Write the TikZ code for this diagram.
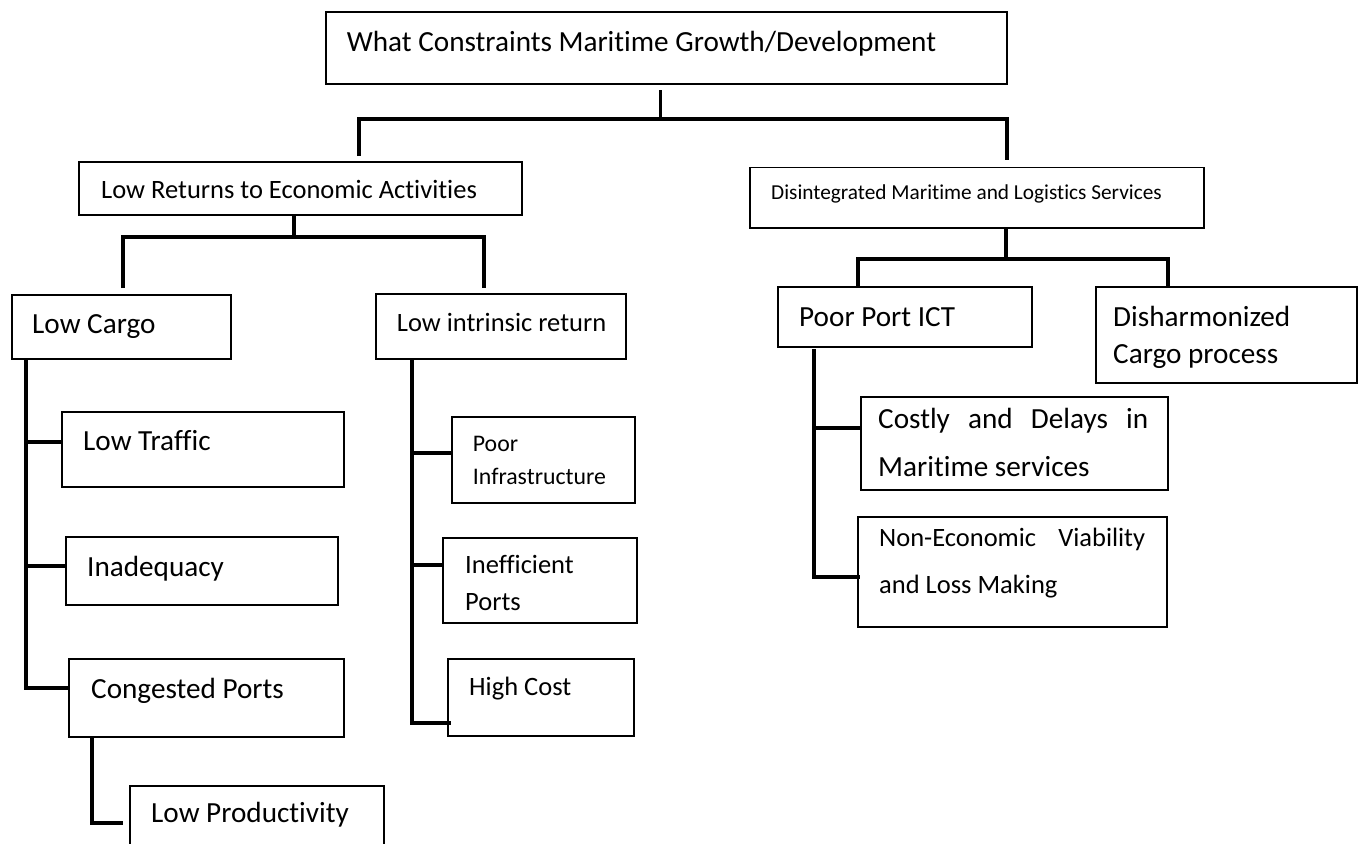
\documentclass[tikz,border=0pt]{standalone}
\usepackage{fontspec}
\setmainfont{Carlito}[Ligatures=NoCommon]
\newcommand\fsL{\fontsize{29.2}{36}\selectfont}
\newcommand\fsM{\fontsize{26.5}{33}\selectfont}
\newcommand\fsS{\fontsize{23.8}{32.3}\selectfont}
\newcommand\fsX{\fontsize{21.3}{26}\selectfont}
\newcommand\bnode[5]{\node[box,minimum width={(#4-#2)*1pt},minimum height={(#5-#3)*1pt}] (#1) at ({(#2+#4)/2},{(#3+#5)/2}) {};}
\tikzset{
  box/.style={draw=black,line width=1.3pt,inner sep=0pt,fill=none},
  conn/.style={draw=black,line width=3.1pt},
  txt/.style={inner sep=0pt,anchor=base west,text=black}
}
\begin{document}
\begin{tikzpicture}[x=1pt,y=-1pt]
\useasboundingbox (0,0) rectangle (1362,843);
\clip (0,0) rectangle (1362,843);
\fill[white] (0,0) rectangle (1362,843);
% boxes
\bnode{top}{326}{12}{1007}{84}
\bnode{lr}{79}{162}{522}{215}
\bnode{di}{750}{167.5}{1204}{228}
\bnode{lc}{12}{295}{231}{359}
\bnode{li}{376}{294}{626}{359}
\bnode{pp}{778}{287}{1032}{347}
\bnode{dh}{1096}{287}{1357}{383}
\bnode{lt}{62}{412}{344}{487}
\bnode{in}{66}{537}{338}{605}
\bnode{cp}{69}{659}{344}{737}
\bnode{lp}{130}{786}{384}{870}
\bnode{pi}{452}{417}{635}{503}
\bnode{ip}{443}{538}{637}{623}
\bnode{hc}{448}{659}{634}{736}
\bnode{cd}{861}{397}{1168}{490}
\bnode{ne}{858}{517}{1167}{627}
% texts
\node[txt,font=\fsL] (topT) at (346.7,51.7) {What Constraints Maritime Growth/Development};
\node[txt,font=\fsM] (lrT) at (101,198.3) {Low Returns to Economic Activities};
\node[txt,font=\fsX] (diT) at (771,199.3) {Disintegrated Maritime and Logistics Services};
\node[txt,font=\fsL] (ppT) at (799,326.7) {Poor Port ICT};
\node[txt] (dhT) at (1113,326.7) {\parbox[t]{230pt}{\fontsize{29.2}{36.6}\selectfont Disharmonized\\Cargo process}};
\node[txt,font=\fsL] (lcT) at (32,333) {Low Cargo};
\node[txt,font=\fsM] (liT) at (396.7,331.7) {Low intrinsic return};
\node[txt,font=\fsL] (ltT) at (83,450) {Low Traffic};
\node[txt,font=\fsL] (inT) at (87,576) {Inadequacy};
\node[txt] (piT) at (472.7,451.7) {\parbox[t]{160pt}{\fontsize{23.8}{32.3}\selectfont Poor\\Infrastructure}};
\node[txt] (ipT) at (465,573.3) {\parbox[t]{160pt}{\fontsize{26.5}{37.4}\selectfont Inefficient\\Ports}};
\node[txt,font=\fsM] (hcT) at (469,695) {High Cost};
\node[txt,font=\fsL] (cpT) at (91,698.3) {Congested Ports};
\node[txt,font=\fsL] (lpT) at (151,822.7) {Low Productivity};
\node[txt] (cdT) at (878,428.3) {\parbox[t]{270pt}{\fontsize{29.2}{48.4}\selectfont Costly and Delays in\linebreak Maritime services}};
\node[txt] (neT) at (879,546.7) {\parbox[t]{266pt}{\fontsize{26.5}{46.6}\selectfont Non-Economic Viability\linebreak and Loss Making}};
% junction coordinates
\coordinate (j0) at (660.7,119);
\coordinate (j1) at (294,237);
\coordinate (j2) at (1006,259);
\coordinate (j3) at (26,688);
\coordinate (j4) at (412,723);
\coordinate (j5) at (814,577);
\coordinate (j6) at (92,823);
% connectors
\draw[conn] (660.7,90) -- (j0);
\draw[conn] (359,156) -- (359,119) -- (1007,119) -- (1007,160);
\draw[conn] (lr.south -| j1) -- (j1);
\draw[conn] (123,288) -- (123,237) -- (484,237) -- (484,288);
\draw[conn] (di.south -| j2) -- (j2);
\draw[conn] (858,287) -- (858,259) -- (1168,259) -- (1168,287);
\draw[conn] (lc.south -| j3) -- (j3) -- (cp.west |- j3);
\draw[conn] (26,442) -- (lt.west |- 0,442);
\draw[conn] (26,566) -- (in.west |- 0,566);
\draw[conn] (li.south -| j4) -- (j4) -- (451,723);
\draw[conn] (412,453) -- (pi.west |- 0,453);
\draw[conn] (412,565) -- (ip.west |- 0,565);
\draw[conn] (814,349) -- (j5) -- (860,577);
\draw[conn] (814,428) -- (cd.west |- 0,428);
\draw[conn] (cp.south -| j6) -- (j6) -- (123,823);
\end{tikzpicture}
\end{document}
